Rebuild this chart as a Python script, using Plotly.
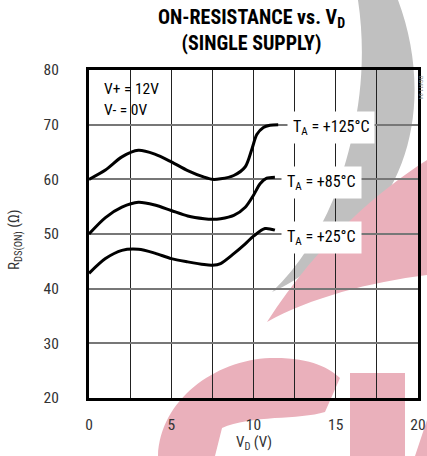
import plotly.graph_objects as go

# --- data ---
vd_125 = [0, 1, 2, 3, 4, 5, 6, 7, 7.5, 8, 8.8, 9.5, 9.9, 10.2, 10.6, 11, 11.5]
r_125 = [60, 61.7, 64.1, 65.3, 64.6, 63.2, 61.6, 60.4, 60.0, 60.1, 60.7, 62.3, 65.5, 68.2, 69.5, 69.9, 70]

vd_85 = [0, 1, 2, 3, 4, 5, 6, 7, 7.5, 8, 8.8, 9.5, 10, 10.4, 10.8, 11.3]
r_85 = [50, 53.0, 54.9, 55.8, 55.3, 54.3, 53.3, 52.8, 52.7, 52.8, 53.4, 54.9, 57.1, 59.2, 60.2, 60.4]

vd_25 = [0, 1, 2, 3, 4, 5, 6, 7, 7.5, 8, 8.8, 9.5, 10, 10.7, 11.3]
r_25 = [42.8, 45.5, 47.0, 47.2, 46.5, 45.5, 44.9, 44.4, 44.3, 44.6, 46.4, 48.2, 49.6, 51.0, 50.7]

curve_labels = ["T<sub>A</sub> = +125°C", "T<sub>A</sub> = +85°C", "T<sub>A</sub> = +25°C"]
label_pos = [(14.7, 70), (14.15, 60), (14.15, 50)]

x_ticks = [0, 5, 10, 15, 20]
y_ticks = [20, 30, 40, 50, 60, 70, 80]

FONT = "Roboto Condensed, Liberation Sans Narrow, Liberation Sans, sans-serif"
W, H = 427, 456
ML, MR, MT, MB = 89, 9, 70, 58
PW, PH = W - ML - MR, H - MT - MB


def px_x(x):
    return (x - ML) / PW


def px_y(y):
    return 1 - (y - MT) / PH


def to_paper(segs):
    # segs in pixel coords -> svg path in paper coords
    out = []
    for cmd, pts in segs:
        coords = " ".join(f"{px_x(x):.4f},{px_y(y):.4f}" for x, y in pts)
        out.append(f"{cmd}{coords}")
    return " ".join(out) + " Z"


GREY = "rgb(192,192,192)"
PINK = "rgb(234,176,187)"

watermark = [
    (GREY, [("M", [(358, 0)]), ("L", [(398, 0)]),
            ("C", [(428, 80), (418, 170), (362, 225)]),
            ("C", [(330, 255), (300, 280), (272, 292)]),
            ("C", [(300, 265), (318, 235), (333, 200)]),
            ("C", [(352, 150), (370, 80), (358, 0)])]),
    (PINK, [("M", [(427, 160)]),
            ("C", [(380, 190), (320, 240), (267, 322)]),
            ("C", [(310, 298), (370, 282), (427, 275)])]),
    (PINK, [("M", [(158, 456)]),
            ("C", [(160, 400), (215, 360), (270, 358)]),
            ("C", [(310, 357), (330, 368), (340, 378)]),
            ("L", [(325, 412)]),
            ("C", [(300, 420), (250, 415), (222, 428)]),
            ("L", [(215, 456)])]),
    (PINK, [("M", [(350, 373)]), ("L", [(405, 373)]), ("L", [(405, 456)]), ("L", [(350, 456)])]),
    (PINK, [("M", [(415, 456)]), ("L", [(427, 420)]), ("L", [(427, 456)])]),
]

fig = go.Figure()

for xs, ys in [(vd_125, r_125), (vd_85, r_85), (vd_25, r_25)]:
    fig.add_trace(go.Scatter(
        x=xs, y=ys, mode="lines",
        line=dict(color="black", width=3, shape="spline", smoothing=0.8),
        showlegend=False, hoverinfo="skip",
    ))

for txt, (lx, ly) in zip(curve_labels, label_pos):
    fig.add_annotation(
        x=lx, y=ly, text=txt, showarrow=False, bgcolor="white",
        borderpad=5, yshift=-3, font=dict(size=16, color="black", family=FONT),
    )

fig.add_annotation(x=0.8, y=76.5, text="V+ = 12V", showarrow=False, xanchor="left",
                   font=dict(size=15.5, color="black", family=FONT))
fig.add_annotation(x=0.8, y=72.6, text="V- = 0V", showarrow=False, xanchor="left",
                   font=dict(size=15.5, color="black", family=FONT))

# title
fig.add_annotation(
    xref="paper", yref="paper", x=px_x(251), y=px_y(3),
    xanchor="center", yanchor="top", showarrow=False, align="center",
    text="<b>ON-RESISTANCE vs. V<sub>D</sub></b><br><b>(SINGLE SUPPLY)</b>",
    font=dict(size=20, color="black", family=FONT),
)
# axis titles
fig.add_annotation(
    xref="paper", yref="paper", x=px_x(15), y=px_y(240),
    xanchor="center", yanchor="middle",
    textangle=-90, showarrow=False, text="R<sub>DS(ON)</sub> (Ω)",
    font=dict(size=15, color="#333", family=FONT),
)
fig.add_annotation(
    xref="paper", yref="paper", x=px_x(254), y=px_y(443),
    xanchor="center", yanchor="middle",
    showarrow=False, text="V<sub>D</sub> (V)",
    font=dict(size=15, color="#333", family=FONT),
)
fig.add_annotation(
    xref="paper", yref="paper", x=px_x(422), y=px_y(88),
    xanchor="center", yanchor="middle",
    textangle=90, showarrow=False, text="DG411 04",
    font=dict(size=6, color="#888", family=FONT),
)

for color, segs in watermark:
    fig.add_shape(type="path", xref="paper", yref="paper", path=to_paper(segs),
                  fillcolor=color, line=dict(width=0), layer="below")

fig.update_xaxes(
    range=[0, 20], tickvals=x_ticks,
    showgrid=True, gridcolor="#222", gridwidth=1,
    showline=True, linecolor="black", linewidth=3, mirror=True,
    ticks="", ticklabelstandoff=10, zeroline=False,
    tickfont=dict(size=15.5, color="#333", family=FONT),
    minor=dict(dtick=2.5, showgrid=True, gridcolor="#222", gridwidth=1),
)
fig.update_yaxes(
    range=[20, 80], tickvals=y_ticks,
    showgrid=True, gridcolor="#777", gridwidth=1.5,
    showline=True, linecolor="black", linewidth=3, mirror=True,
    ticks="", ticklabelstandoff=24, zeroline=False,
    tickfont=dict(size=15.5, color="#333", family=FONT),
)

fig.update_layout(
    width=W, height=H,
    margin=dict(l=ML, r=MR, t=MT, b=MB, autoexpand=False),
    paper_bgcolor="white", plot_bgcolor="rgba(0,0,0,0)",
    font=dict(family=FONT), hovermode=False,
)

# drop the page's default body margin so the figure fills the window exactly
fig.write_html(
    "out.html",
    config={"displayModeBar": False},
    post_script="document.body.style.margin='0';document.body.style.overflow='hidden';",
)
